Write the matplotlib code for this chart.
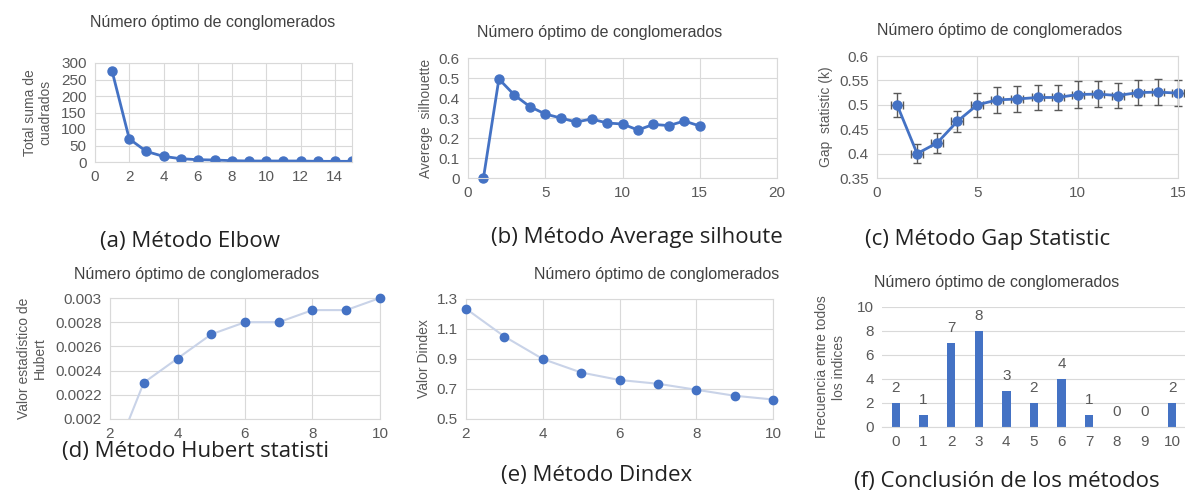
import matplotlib
matplotlib.use("Agg")
import matplotlib.pyplot as plt

plt.rcParams['font.family'] = ['Liberation Sans', 'DejaVu Sans']

W, H = 1185, 491
BLUE = '#4472C4'
GRID = '#d9d9d9'
TXT = '#595959'
TITLE = 'Número óptimo de conglomerados'

# (a) Elbow
k_elbow = list(range(1, 16))
wss = [275, 70, 32, 17, 10, 7, 6, 4, 3, 3, 3, 3, 2, 2, 2]

# (b) Average silhouette
k_sil = list(range(1, 16))
silhouette = [0, 0.495, 0.415, 0.357, 0.32, 0.30, 0.28, 0.295, 0.275, 0.27,
              0.24, 0.268, 0.262, 0.285, 0.26]

# (c) Gap statistic
k_gap = list(range(1, 16))
gap = [0.50, 0.40, 0.422, 0.466, 0.50, 0.51, 0.512, 0.515, 0.515, 0.521,
       0.522, 0.519, 0.525, 0.526, 0.524]
gap_se = [0.025, 0.02, 0.02, 0.022, 0.025, 0.026, 0.026, 0.026, 0.026, 0.027,
          0.027, 0.026, 0.026, 0.026, 0.026]

# (d) Hubert
k_hub = [2, 3, 4, 5, 6, 7, 8, 9, 10]
hubert = [0.0016, 0.0023, 0.0025, 0.0027, 0.0028, 0.0028, 0.0029, 0.0029, 0.003]

# (e) Dindex
k_din = [2, 3, 4, 5, 6, 7, 8, 9, 10]
dindex = [1.235, 1.05, 0.90, 0.81, 0.76, 0.735, 0.695, 0.655, 0.63]

# (f) votos por número de conglomerados
n_clusters = list(range(0, 11))
freq = [2, 1, 7, 8, 3, 2, 4, 1, 0, 0, 2]

fig = plt.figure(figsize=(W / 100, H / 100), dpi=100)
TICK = 11
YLAB = 10
TSIZE = 11.5
CSIZE = 16


def px_axes(x0, y0, x1, y1):
    # coordenadas en píxeles (origen arriba a la izquierda)
    return fig.add_axes([x0 / W, 1 - y1 / H, (x1 - x0) / W, (y1 - y0) / H])


def style(ax, xgrid=True):
    for s in ax.spines.values():
        s.set_color(GRID)
        s.set_linewidth(0.8)
    ax.grid(True, axis='y', color=GRID, lw=0.8)
    if xgrid:
        ax.grid(True, axis='x', color=GRID, lw=0.8)
    ax.set_axisbelow(True)
    ax.tick_params(length=0, labelsize=TICK, colors=TXT, pad=6)


def txt(x, y, s, size=TSIZE, color='#404040', font=None, **kw):
    fam = font if font else ['Liberation Sans', 'DejaVu Sans']
    fig.text(x / W, 1 - y / H, s, ha='center', va='center', fontsize=size,
             color=color, family=fam, **kw)


CAP = ['Open Sans', 'DejaVu Sans']

# ---- (a)
ax = px_axes(95, 63, 352, 162)
style(ax)
ax.plot(k_elbow, wss, color=BLUE, lw=2, marker='o', ms=6.5)
ax.set_xlim(0, 15)
ax.set_ylim(0, 300)
ax.set_xticks(range(0, 16, 2))
ax.set_yticks(range(0, 301, 50))
ax.set_ylabel('Total suma de\ncuadrados', fontsize=YLAB, color=TXT, labelpad=6)
txt(213, 23, TITLE)
txt(190, 241, '(a) Método Elbow', size=CSIZE, color='#222222', font=CAP)

# ---- (b)
ax = px_axes(468, 58, 777, 178)
style(ax)
ax.plot(k_sil, silhouette, color=BLUE, lw=2, marker='o', ms=6.5, clip_on=False)
ax.set_xlim(0, 20)
ax.set_ylim(0, 0.6)
ax.set_xticks([0, 5, 10, 15, 20])
ax.set_yticks([0, 0.1, 0.2, 0.3, 0.4, 0.5, 0.6])
ax.set_yticklabels(['0', '0.1', '0.2', '0.3', '0.4', '0.5', '0.6'])
ax.set_ylabel('Averege  silhouette', fontsize=YLAB, color=TXT, labelpad=4)
txt(600, 32, TITLE)
txt(637, 238, '(b) Método Average silhoute', size=CSIZE, color='#222222', font=CAP)

# ---- (c)
ax = px_axes(877, 56, 1178, 178)
style(ax)
ax.errorbar(k_gap, gap, yerr=gap_se, xerr=0.3, color=BLUE, lw=2, marker='o',
            ms=6.5, ecolor='#595959', elinewidth=1, capsize=3, clip_on=False)
ax.set_xlim(0, 15)
ax.set_ylim(0.35, 0.6)
ax.set_xticks([0, 5, 10, 15])
ax.set_yticks([0.35, 0.4, 0.45, 0.5, 0.55, 0.6])
ax.set_yticklabels(['0.35', '0.4', '0.45', '0.5', '0.55', '0.6'])
ax.set_ylabel('Gap  statistic (k)', fontsize=YLAB, color=TXT, labelpad=4)
txt(1000, 30, TITLE)
txt(988, 240, '(c) Método Gap Statistic', size=CSIZE, color='#222222', font=CAP)

# ---- (d)
ax = px_axes(110, 298, 380, 419)
style(ax)
ax.set_xlim(2, 10)
ax.set_ylim(0.002, 0.003)
ax.plot(k_hub, hubert, color='#c9d3e8', lw=1.5, zorder=2)
# sólo los puntos que caen dentro del rango visible
vis = [(k, v) for k, v in zip(k_hub, hubert) if v >= 0.002]
ax.plot([k for k, _ in vis], [v for _, v in vis], ls='none', color=BLUE,
        marker='o', ms=6, zorder=3, clip_on=False)
ax.set_xticks(range(2, 11, 2))
ax.set_yticks([0.002, 0.0022, 0.0024, 0.0026, 0.0028, 0.003])
ax.set_yticklabels(['0.002', '0.0022', '0.0024', '0.0026', '0.0028', '0.003'])
ax.set_ylabel('Valor estadístico de\nHubert', fontsize=YLAB, color=TXT, labelpad=6)
txt(197, 275, TITLE)
txt(195, 451, '(d) Método Hubert statisti', size=CSIZE, color='#222222', font=CAP)

# ---- (e)
ax = px_axes(466, 299, 773, 419)
style(ax)
ax.plot(k_din, dindex, color='#c9d3e8', lw=1.5, zorder=2)
ax.plot(k_din, dindex, ls='none', color=BLUE, marker='o', ms=6, zorder=3,
        clip_on=False)
ax.set_xlim(2, 10)
ax.set_ylim(0.5, 1.3)
ax.set_xticks(range(2, 11, 2))
ax.set_yticks([0.5, 0.7, 0.9, 1.1, 1.3])
ax.set_ylabel('Valor Dindex', fontsize=YLAB, color=TXT, labelpad=4)
txt(657, 275, TITLE)
txt(597, 475, '(e) Método Dindex', size=CSIZE, color='#222222', font=CAP)

# ---- (f)
ax = px_axes(882, 307, 1186, 427)
style(ax, xgrid=False)
ax.spines['left'].set_visible(False)
ax.spines['right'].set_visible(False)
ax.spines['top'].set_visible(False)
bars = ax.bar(n_clusters, freq, width=0.3, color=BLUE)
ax.bar_label(bars, labels=[str(v) for v in freq], padding=6, fontsize=TICK,
             color=TXT)
ax.set_xlim(-0.5, 10.5)
ax.set_ylim(0, 10)
ax.set_xticks(n_clusters)
ax.set_yticks(range(0, 11, 2))
ax.set_ylabel('Frecuencia entre todos\nlos indices', fontsize=YLAB, color=TXT,
              labelpad=8)
txt(997, 283, TITLE)
txt(1007, 481, '(f) Conclusión de los métodos', size=CSIZE, color='#222222', font=CAP)

fig.savefig('out.png', dpi=100, facecolor='white')
